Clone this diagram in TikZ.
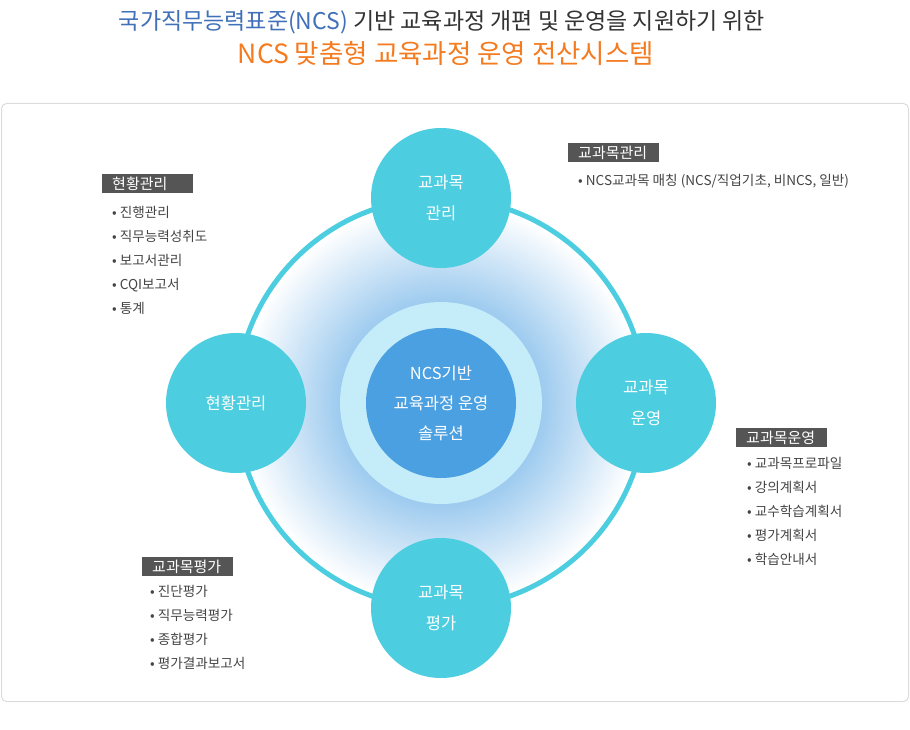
\documentclass[tikz,border=0pt]{standalone}
\usepackage{fontspec}
\setmainfont{Noto Sans CJK KR}
\usetikzlibrary{positioning}

\definecolor{ringcyan}{HTML}{4CCEE0}
\definecolor{glowblue}{HTML}{9ECBEF}
\definecolor{corelight}{HTML}{C5ECF9}
\definecolor{coreblue}{HTML}{4AA0E0}
\definecolor{headgray}{HTML}{555555}
\definecolor{itemgray}{HTML}{444444}
\definecolor{titleblue}{HTML}{4070B8}
\definecolor{titlegray}{HTML}{333333}
\definecolor{titleorange}{HTML}{F47B20}
\definecolor{framegray}{HTML}{DCDCDC}

\pgfdeclareradialshading{ringglow}{\pgfpoint{0bp}{0bp}}{color(0bp)=(glowblue); color(12.4bp)=(glowblue); color(24.6bp)=(white); color(50bp)=(white)}

\begin{document}
\begin{tikzpicture}[
      x=1pt, y=-1pt,
      hub/.style={circle, minimum size=140pt, inner sep=0pt, fill=ringcyan, text=white, align=center, font=\fontsize{16.5}{31}\selectfont},
      header/.style={fill=headgray, text=white, anchor=north west, text width=71pt, inner xsep=10pt, inner ysep=0pt, minimum height=19pt, align=left, font=\fontsize{15}{16}\selectfont},
      items/.style={anchor=west, inner sep=0pt, align=left, text=itemgray, font=\fontsize{13.6}{24}\selectfont}
    ]
      \useasboundingbox (0,0) rectangle (910,730);
      \draw[framegray, line width=1pt, rounded corners=5pt] (1.5,103.5) rectangle (908.5,701.5);

      \node[text=titlegray, font=\fontsize{23}{26}\selectfont] (title) at (442,22)
        {{\color{titleblue}국가직무능력표준(NCS)} 기반 교육과정 개편 및 운영을 지원하기 위한};
      \node[text=titleorange, font=\fontsize{26.5}{30}\selectfont] (subtitle) at (446,53)
        {NCS 맞춤형 교육과정 운영 전산시스템};

      \shadedraw[shading=ringglow, draw=ringcyan, line width=5pt] (441,403) circle[radius=205pt];
      \node[circle, fill=corelight, minimum size=202pt, inner sep=0pt] (halo) at (441,403) {};
      \node[circle, fill=coreblue, minimum size=150pt, inner sep=0pt, text=white, align=center,
            font=\fontsize{16.5}{30}\selectfont] (core) at (halo) {NCS기반\\교육과정 운영\\솔루션};

      \node[hub] (manage) at (441,198) {교과목\\관리};
      \node[hub] (run)    at (646,403) {교과목\\운영};
      \node[hub] (assess) at (441,608) {교과목\\평가};
      \node[hub] (status) at (236,403) {현황관리};

      \node[header] (hdstatus) at (102,174) {현황관리};
      \node[items] (lsstatus) at (112,260.5)
        {• 진행관리\\• 직무능력성취도\\• 보고서관리\\• CQI보고서\\• 통계};

      \node[header] (hdmanage) at (568,143) {교과목관리};
      \node[items] (lsmanage) at (578,181.5) {• NCS교과목 매칭 (NCS/직업기초, 비NCS, 일반)};

      \node[header] (hdrun) at (736,428) {교과목운영};
      \node[items] (lsrun) at (747,511)
        {• 교과목프로파일\\• 강의계획서\\• 교수학습계획서\\• 평가계획서\\• 학습안내서};

      \node[header] (hdassess) at (142,557) {교과목평가};
      \node[items] (lsassess) at (150,627.5)
        {• 진단평가\\• 직무능력평가\\• 종합평가\\• 평가결과보고서};
\end{tikzpicture}
\end{document}
